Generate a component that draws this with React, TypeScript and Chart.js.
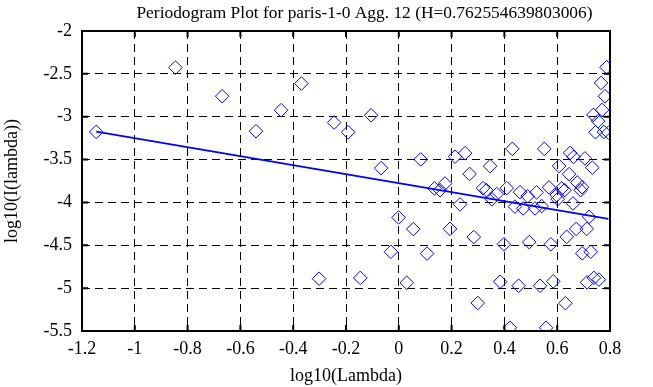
import React, { useEffect, useRef } from "react";
import { Chart, registerables } from "chart.js";

Chart.register(...registerables);

const titleText = "Periodogram Plot for paris-1-0 Agg. 12 (H=0.762554639803006)";
const xAxisLabel = "log10(Lambda)";
const yAxisLabel = "log10(I(lambda))";

const xValues = [
  -1.146, -0.846, -0.669, -0.541, -0.446, -0.369, -0.245, -0.302, -0.192, -0.105,
  -0.067, 0.083, 0.213, 0.251, 0.268, 0.346, 0.430, 0.551, 0.649, 0.662,
  0.705, 0.607, 0.733, 0.645, 0.787, 0.766, 0.781, 0.770, 0.737, 0.755,
  0.745, 0.777, 0.794, 0.135, 0.156, 0.175, 0.232, -0.001, 0.055, -0.030,
  0.107, -0.146, 0.030, 0.194, 0.284, 0.398, 0.494, 0.576, 0.384, 0.454,
  0.535, 0.585, 0.299, 0.631, 0.421, 0.558, 0.713, 0.739, 0.758, 0.695,
  0.727, 0.636, 0.672, 0.712, 0.721, 0.660, 0.602, 0.319, 0.332, 0.371,
  0.353, 0.409, 0.459, 0.488, 0.522, 0.569, 0.617, 0.598, 0.440, 0.471,
  0.516, 0.541, 0.676, 0.689, 0.628, 0.694,
];

const yValues = [
  -3.177, -2.427, -2.761, -3.169, -2.924, -2.613, -3.068, -4.890, -3.181, -2.983,
  -3.600, -3.498, -3.466, -3.425, -3.668, -3.577, -3.375, -3.375, -3.422, -3.469,
  -3.486, -3.575, -3.594, -3.670, -2.423, -2.606, -2.761, -2.921, -2.979, -3.052,
  -3.181, -3.177, -3.187, -3.837, -3.857, -3.779, -4.023, -4.175, -4.311, -4.576,
  -4.597, -4.880, -4.937, -4.308, -4.404, -4.488, -4.463, -4.488, -4.925, -4.972,
  -4.972, -4.921, -5.174, -5.176, -5.462, -5.462, -4.932, -4.880, -4.900, -4.594,
  -4.576, -4.401, -4.308, -4.308, -4.168, -4.012, -3.962, -3.833, -3.857, -3.903,
  -3.964, -3.833, -3.880, -3.927, -3.883, -3.825, -3.837, -3.915, -4.049, -4.070,
  -4.070, -4.043, -3.767, -3.857, -3.857, -3.822,
];

const fitX = [-1.146, 0.794];
const fitY = [-3.174, -4.193];

const xTickMin = -1.2;
const xTickMax = 0.8;
const xTickStep = 0.2;
const yTickMin = -5.5;
const yTickMax = -2;
const yTickStep = 0.5;

const FONT = "'Liberation Serif', 'Times New Roman', serif";

const fmt = (v: number) => String(parseFloat(Number(v).toFixed(2)));

const framePlugin = {
  id: "frame",
  afterDatasetsDraw(chart: any) {
    const { ctx, chartArea } = chart;
    const { left, right, top, bottom } = chartArea;
    const xs = chart.scales.x;
    const ys = chart.scales.y;
    ctx.save();
    ctx.strokeStyle = "#000";
    ctx.lineWidth = 2;
    ctx.setLineDash([]);
    ctx.strokeRect(left, top, right - left, bottom - top);
    const len = 6;
    ctx.beginPath();
    xs.ticks.forEach((t: any) => {
      const px = xs.getPixelForValue(t.value);
      ctx.moveTo(px, bottom);
      ctx.lineTo(px, bottom - len);
      ctx.moveTo(px, top);
      ctx.lineTo(px, top + len);
    });
    ys.ticks.forEach((t: any) => {
      const py = ys.getPixelForValue(t.value);
      ctx.moveTo(left, py);
      ctx.lineTo(left + len, py);
      ctx.moveTo(right, py);
      ctx.lineTo(right - len, py);
    });
    ctx.stroke();
    ctx.restore();
  },
  afterDraw(chart: any) {
    const { ctx } = chart;
    ctx.save();
    ctx.fillStyle = "#000";
    ctx.font = `17.4px ${FONT}`;
    ctx.textAlign = "center";
    ctx.textBaseline = "alphabetic";
    ctx.fillText(titleText, 364.5, 18);
    ctx.restore();
  },
};

export default function App() {
  const canvasRef = useRef<HTMLCanvasElement | null>(null);

  useEffect(() => {
    document.body.style.margin = "0";
    const canvas = canvasRef.current;
    if (!canvas) return;
    const points = xValues.map((x, i) => ({ x, y: yValues[i] }));
    const fit = fitX.map((x, i) => ({ x, y: fitY[i] }));
    const chart = new Chart(canvas, {
      type: "scatter",
      data: {
        datasets: [
          {
            type: "scatter",
            data: points,
            pointStyle: "rectRot",
            pointRadius: 6.8,
            pointBorderWidth: 1,
            pointBorderColor: "#0000ff",
            pointBackgroundColor: "rgba(0,0,0,0)",
            pointHoverRadius: 6.8,
          },
          {
            type: "line",
            data: fit,
            borderColor: "#0000ff",
            borderWidth: 1.8,
            pointRadius: 0,
            fill: false,
            tension: 0,
          },
        ],
      },
      options: {
        responsive: false,
        animation: false,
        events: [],
        layout: { padding: { top: 31, right: 43, bottom: 0, left: 0 } },
        plugins: {
          legend: { display: false },
          tooltip: { enabled: false },
          title: { display: false },
        },
        scales: {
          x: {
            type: "linear",
            min: xTickMin,
            max: xTickMax,
            afterFit: (s: any) => {
              s.height = 56;
            },
            ticks: {
              stepSize: xTickStep,
              color: "#000",
              padding: 7,
              maxRotation: 0,
              autoSkip: false,
              font: { family: FONT, size: 18 },
              callback: (v: any) => fmt(v),
            },
            grid: {
              color: "#000",
              lineWidth: 1,
              drawTicks: false,
            },
            border: { display: false, dash: [8, 5] },
            title: {
              display: true,
              text: xAxisLabel,
              color: "#000",
              font: { family: FONT, size: 18 },
              padding: { top: 0, bottom: 0 },
            },
          },
          y: {
            type: "linear",
            min: yTickMin,
            max: yTickMax,
            afterFit: (s: any) => {
              s.width = 82;
            },
            ticks: {
              stepSize: yTickStep,
              color: "#000",
              padding: 10,
              autoSkip: false,
              font: { family: FONT, size: 18 },
              callback: (v: any) => fmt(v),
            },
            grid: {
              color: "#000",
              lineWidth: 1,
              drawTicks: false,
            },
            border: { display: false, dash: [8, 5] },
            title: {
              display: true,
              text: yAxisLabel,
              color: "#000",
              font: { family: FONT, size: 18 },
              padding: { top: 1, bottom: 0 },
            },
          },
        },
      },
      plugins: [framePlugin],
    });
    return () => chart.destroy();
  }, []);

  return (
    <div style={{ width: 653, height: 387 }}>
      <canvas ref={canvasRef} width={653} height={387} />
    </div>
  );
}
